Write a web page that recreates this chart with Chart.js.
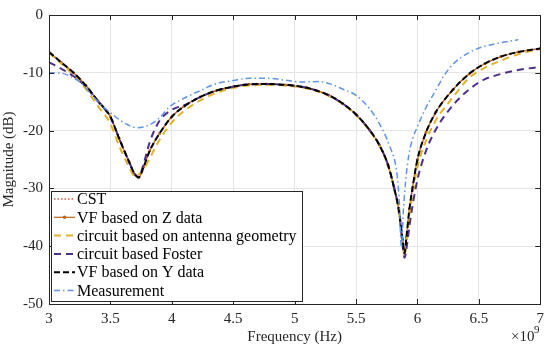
<!DOCTYPE html>
<html lang="en">
<head>
    <meta charset="UTF-8">
    <title>Magnitude vs Frequency</title>
    <script src="https://cdn.jsdelivr.net/npm/chart.js"></script>
    <style>
        html, body { margin: 0; padding: 0; background: #fff; }
        #wrap { width: 550px; height: 348px; }
    </style>
</head>
<body>
    <div id="wrap"><canvas id="chart" width="550" height="348"></canvas></div>

    <script>
        // frequency grid in GHz (axis shows x10^9)
        const freq = [3.0, 3.1, 3.2, 3.3, 3.4, 3.5, 3.57, 3.65, 3.7, 3.73, 3.77, 3.82, 3.9, 4.0, 4.1, 4.23, 4.36, 4.5, 4.63, 4.77, 4.93, 5.1,
            5.28, 5.39, 5.5, 5.61, 5.69, 5.76, 5.81, 5.85, 5.88, 5.895, 5.91, 5.935, 5.96, 6.0, 6.07, 6.15, 6.29, 6.42, 6.55, 6.68, 6.82, 7.0];

        const cst = [-6.4, -8.2, -10.0, -12.2, -14.9, -17.6, -21.3, -25.3, -27.6, -28.1, -26.3, -23.5, -20.5, -17.6, -15.8, -14.2, -13.1, -12.4, -12.0, -11.95, -12.1, -12.6,
            -13.9, -15.3, -17.2, -19.9, -22.5, -25.9, -29.9, -33.9, -39.0, -41.2, -38.5, -33.5, -29.9, -25.0, -20.3, -16.8, -12.9, -10.2, -8.4, -7.2, -6.4, -5.8];
        const vfZ = cst.slice();
        const vfY = cst.slice();

        const geometry = [-6.5, -8.4, -10.4, -12.8, -15.8, -18.8, -22.6, -26.2, -27.9, -27.6, -26.8, -24.8, -21.6, -18.6, -16.6, -14.8, -13.5, -12.6, -12.2, -12.1, -12.2, -12.7,
            -14.0, -15.4, -17.3, -20.0, -22.6, -26.0, -30.0, -34.2, -39.5, -41.5, -39.5, -34.5, -31.0, -26.3, -21.7, -18.2, -14.2, -10.9, -9.1, -7.9, -6.8, -5.9];

        const foster = [-8.2, -9.3, -10.6, -12.4, -15.0, -17.7, -21.3, -25.3, -27.6, -28.0, -25.8, -22.0, -18.3, -16.4, -15.6, -14.2, -13.1, -12.4, -12.0, -11.95, -12.1, -12.6,
            -13.9, -15.3, -17.2, -19.9, -22.5, -25.9, -29.9, -34.0, -40.0, -42.0, -40.5, -36.5, -33.0, -28.5, -23.5, -19.8, -15.6, -12.9, -11.1, -10.2, -9.5, -9.0];

        const measFreq = [3.0, 3.11, 3.19, 3.27, 3.35, 3.43, 3.54, 3.65, 3.72, 3.81, 3.9, 3.98, 4.09, 4.23, 4.36, 4.5, 4.63, 4.77, 4.93, 5.05, 5.2, 5.3, 5.39, 5.5,
            5.61, 5.69, 5.77, 5.83, 5.85, 5.87, 5.885, 5.905, 5.93, 5.96, 6.0, 6.07, 6.15, 6.22, 6.29, 6.42, 6.55, 6.68, 6.82];
        const measurement = [-10.0, -10.1, -10.8, -11.9, -13.9, -15.6, -17.6, -19.1, -19.5, -19.1, -17.8, -15.9, -14.5, -13.1, -11.9, -11.35, -10.95, -10.95, -11.3, -11.6, -11.5, -12.0, -12.8, -13.9,
            -16.2, -18.8, -22.5, -27.0, -31.5, -40.2, -34.0, -28.5, -24.2, -21.5, -19.3, -16.0, -13.0, -10.4, -8.5, -6.5, -5.4, -4.8, -4.3];

        const xTicks = [3, 3.5, 4, 4.5, 5, 5.5, 6, 6.5, 7];
        const xTickLabels = ['3', '3.5', '4', '4.5', '5', '5.5', '6', '6.5', '7'];
        const yTicks = [0, -10, -20, -30, -40, -50];

        const seriesNames = ['CST', 'VF based on Z data', 'circuit based on antenna geometry', 'circuit based Foster', 'VF based on Y data', 'Measurement'];

        const FONT = '"Liberation Serif", "DejaVu Serif", serif';

        function pts(xs, ys) {
            return xs.map((x, i) => ({ x: x, y: ys[i] }));
        }

        const datasets = [
            { label: seriesNames[0], data: pts(freq, cst), borderColor: '#D9534A', borderWidth: 1.5, borderDash: [1.5, 2], order: 6 },
            { label: seriesNames[1], data: pts(freq, vfZ), borderColor: '#B8651E', borderWidth: 1.2, pointRadius: 1.5, pointBackgroundColor: '#B8651E', pointBorderWidth: 0, order: 5 },
            { label: seriesNames[2], data: pts(freq, geometry), borderColor: '#E2B22A', borderWidth: 2, borderDash: [7, 5], order: 4 },
            { label: seriesNames[3], data: pts(freq, foster), borderColor: '#4E2F8A', borderWidth: 2, borderDash: [7, 5], order: 3 },
            { label: seriesNames[4], data: pts(freq, vfY), borderColor: '#000000', borderWidth: 2, borderDash: [6, 3], order: 2 },
            { label: seriesNames[5], data: pts(measFreq, measurement), borderColor: '#5F95E3', borderWidth: 1.5, borderDash: [6, 3, 1.5, 3], order: 1 }
        ];
        datasets.forEach(d => {
            d.fill = false;
            d.cubicInterpolationMode = 'monotone';
            if (d.pointRadius === undefined) d.pointRadius = 0;
        });

        // box, inward ticks, legend and the x10^9 exponent
        const extras = {
            id: 'extras',
            afterDatasetsDraw(chart) {
                const ctx = chart.ctx;
                const a = chart.chartArea;
                const xs = chart.scales.x, ys = chart.scales.y;
                ctx.save();
                ctx.strokeStyle = '#262626';
                ctx.lineWidth = 1;
                ctx.beginPath();
                xTicks.forEach(v => {
                    const px = Math.round(xs.getPixelForValue(v)) + 0.5;
                    ctx.moveTo(px, a.bottom); ctx.lineTo(px, a.bottom - 5);
                    ctx.moveTo(px, a.top); ctx.lineTo(px, a.top + 5);
                });
                yTicks.forEach(v => {
                    const py = Math.round(ys.getPixelForValue(v)) + 0.5;
                    ctx.moveTo(a.left, py); ctx.lineTo(a.left + 5, py);
                    ctx.moveTo(a.right, py); ctx.lineTo(a.right - 5, py);
                });
                ctx.stroke();
                ctx.strokeRect(Math.round(a.left) + 0.5, Math.round(a.top) + 0.5, Math.round(a.right - a.left), Math.round(a.bottom - a.top));

                // legend
                const lx = 51.5, ly = 191.5, lw = 251, lh = 110;
                ctx.fillStyle = '#fff';
                ctx.fillRect(lx, ly, lw, lh);
                ctx.strokeStyle = '#262626';
                ctx.strokeRect(lx, ly, lw, lh);
                ctx.font = '16px ' + FONT;
                ctx.textBaseline = 'middle';
                ctx.textAlign = 'left';
                datasets.forEach((d, i) => {
                    const y = 199 + i * 18.3;
                    ctx.strokeStyle = d.borderColor;
                    ctx.lineWidth = d.borderWidth;
                    ctx.setLineDash(d.borderDash || []);
                    ctx.beginPath();
                    ctx.moveTo(54, y); ctx.lineTo(75, y);
                    ctx.stroke();
                    ctx.setLineDash([]);
                    if (d.pointRadius > 0) {
                        ctx.fillStyle = d.borderColor;
                        ctx.beginPath();
                        ctx.arc(64.5, y, 1.8, 0, Math.PI * 2);
                        ctx.fill();
                    }
                    ctx.fillStyle = '#000';
                    ctx.fillText(d.label, 77, y + 1);
                });

                // exponent
                ctx.fillStyle = '#262626';
                ctx.font = '15px ' + FONT;
                ctx.textBaseline = 'alphabetic';
                ctx.fillText('\u00d710', 511, 341);
                ctx.font = '11px ' + FONT;
                ctx.fillText('9', 534, 333);
                ctx.restore();
            }
        };

        new Chart(document.getElementById('chart').getContext('2d'), {
            type: 'line',
            data: { datasets: datasets },
            options: {
                responsive: false,
                animation: false,
                events: [],
                layout: { padding: { top: 12, right: 8, left: 0, bottom: 0 } },
                plugins: { legend: { display: false }, tooltip: { enabled: false } },
                scales: {
                    x: {
                        type: 'linear',
                        min: 3, max: 7,
                        afterFit: s => { s.height = 44; },
                        afterBuildTicks: s => { s.ticks = xTicks.map(v => ({ value: v })); },
                        ticks: {
                            color: '#262626', font: { family: FONT, size: 15 }, padding: 6, maxRotation: 0,
                            callback: (v) => xTickLabels[xTicks.indexOf(v)]
                        },
                        grid: { color: '#e6e6e6', drawTicks: false },
                        border: { color: '#262626' },
                        title: { display: true, text: 'Frequency (Hz)', color: '#262626', font: { family: FONT, size: 15 }, padding: { top: 0, bottom: 2 } }
                    },
                    y: {
                        min: -50, max: 0,
                        afterFit: s => { s.width = 49; },
                        afterBuildTicks: s => { s.ticks = yTicks.map(v => ({ value: v })); },
                        ticks: { color: '#262626', font: { family: FONT, size: 15 }, padding: 6 },
                        grid: { color: '#e6e6e6', drawTicks: false },
                        border: { color: '#262626' },
                        title: { display: true, text: 'Magnitude (dB)', color: '#262626', font: { family: FONT, size: 15 }, padding: { top: 0, bottom: 0 } }
                    }
                }
            },
            plugins: [extras]
        });
    </script>
</body>
</html>
